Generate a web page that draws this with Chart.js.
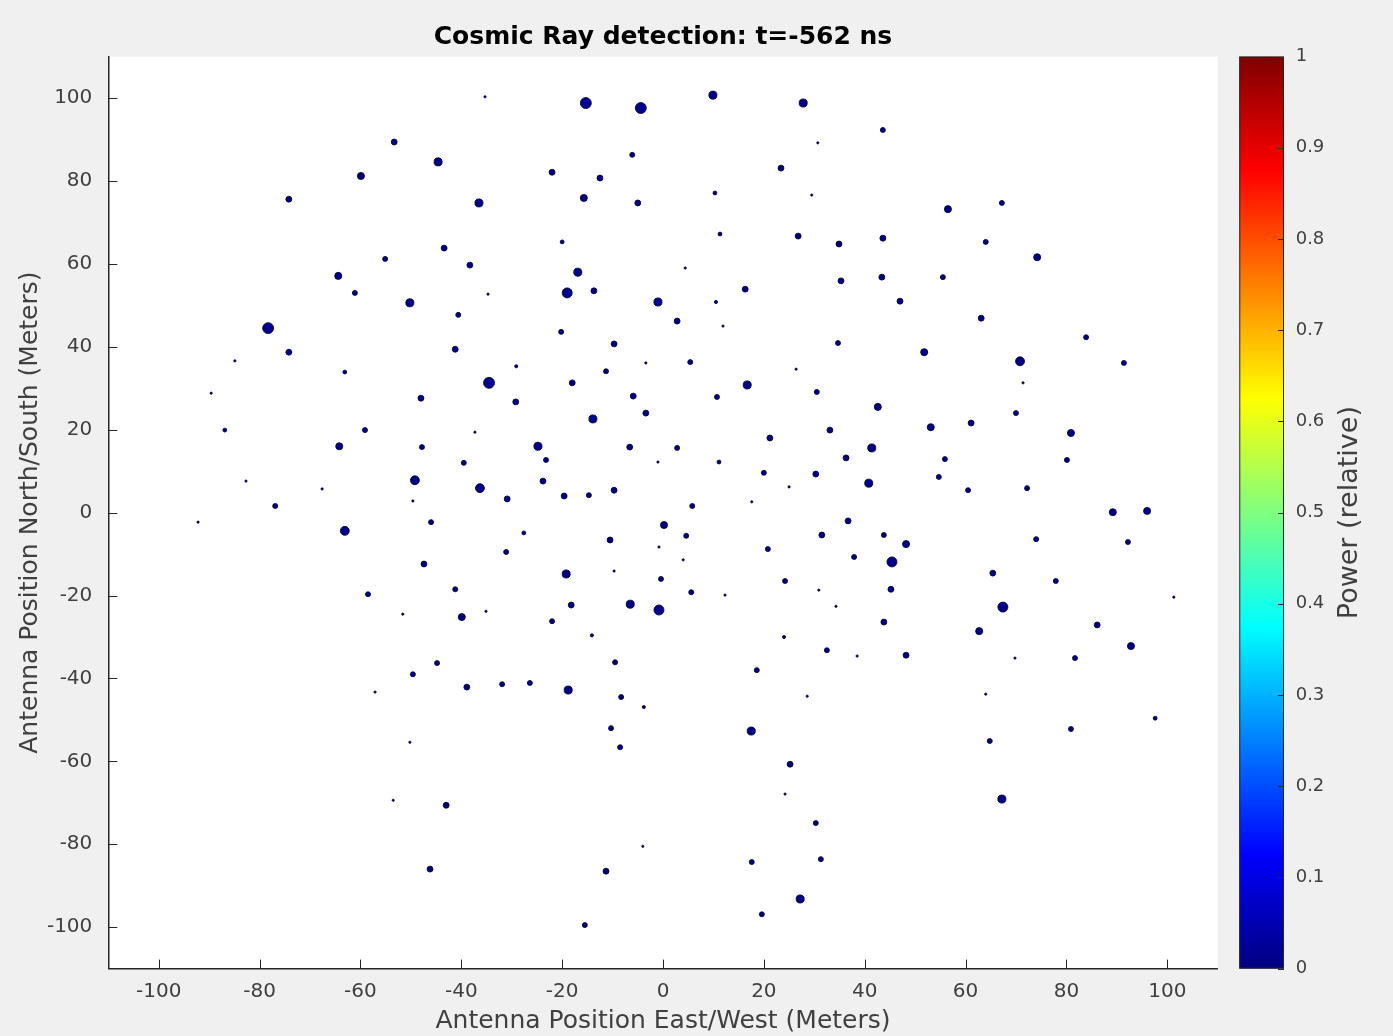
<!DOCTYPE html>
<html><head><meta charset="utf-8">
<script src="https://cdn.jsdelivr.net/npm/chart.js@4"></script>
<style>html,body{margin:0;padding:0;background:#f0f0f0;}canvas{display:block}</style>
</head><body>
<canvas id="c" width="1393" height="1036"></canvas>
<script>
// Antenna positions (meters) and relative power
const eastWest = [
-35.3,-15.3,-4.4,9.9,27.8,-53.3,43.6,30.7,-44.6,-6.1,
-59.9,-22.0,-12.5,23.4,-74.2,-36.5,-15.7,-5.0,10.3,29.5,
56.5,67.2,-43.4,-20.0,11.3,26.8,34.9,43.6,64.0,-55.1,
-38.3,4.4,-64.4,-16.9,-61.1,-13.7,-34.7,-50.2,-19.0,-1.0,
16.3,35.3,43.4,47.0,74.2,55.5,63.1,-40.6,2.8,11.9,
-20.2,10.5,-78.3,-84.9,-74.2,-41.2,-9.7,5.4,34.7,51.8,
70.8,83.9,91.4,-89.6,-63.1,-34.5,-29.1,-18.0,-11.3,16.7,
26.4,30.5,71.4,-48.0,-29.2,-5.9,10.7,-86.9,-59.1,-37.3,
-13.9,-3.4,42.6,70.0,-64.2,-47.8,-24.8,-6.6,2.8,21.2,
33.1,41.4,53.1,61.1,80.9,-67.6,-39.5,-23.2,-1.0,11.1,
20.0,30.3,36.3,55.9,80.1,40.8,-82.7,-76.9,-49.2,-49.6,
-36.3,-30.9,-23.8,-19.6,-14.7,-9.7,5.8,17.6,25.0,54.7,
60.5,72.2,89.2,96.0,-92.2,-63.1,-46.0,0.2,-10.5,-0.8,
4.6,-31.1,-47.4,-27.6,31.5,36.7,43.8,48.2,74.0,92.2,
4.0,-19.2,-9.7,-0.4,45.4,20.8,37.9,65.4,77.9,-58.5,
-41.2,-18.2,-6.5,-0.8,5.6,12.3,24.2,30.9,45.2,67.4,
101.3,-51.6,-35.1,-39.9,-22.0,-14.1,24.0,34.3,43.8,62.7,
86.1,32.5,38.5,48.2,69.8,81.7,92.8,-44.8,-18.8,-49.6,
-38.9,-31.9,-26.4,-9.5,18.6,-57.1,-8.3,-3.8,28.6,64.0,
97.6,-10.3,17.5,80.9,-8.5,-50.2,64.8,25.2,-53.5,-43.0,
24.2,67.2,30.3,-4.0,-46.2,-11.3,17.6,31.3,27.2,19.6,
-15.5,-3.4
];
const northSouth = [
100.3,98.8,97.6,100.7,98.8,89.4,92.3,89.2,84.6,86.3,
81.2,82.1,80.7,83.1,75.6,74.7,75.9,74.7,77.1,76.6,
73.2,74.7,63.8,65.3,67.2,66.7,64.8,66.2,65.3,61.2,
59.7,59.0,57.1,58.0,53.0,53.5,52.7,50.6,53.0,50.8,
53.9,55.9,56.8,51.0,61.6,56.8,46.9,47.7,46.2,45.0,
43.6,50.8,44.5,36.6,38.7,39.4,40.7,36.3,40.9,38.7,
36.5,42.3,36.1,28.8,33.9,31.3,35.3,31.3,34.1,30.8,
34.6,29.1,31.3,27.6,26.7,28.1,27.9,19.9,19.9,19.4,
22.6,24.0,25.5,24.0,16.0,15.8,16.0,15.8,15.6,18.0,
19.9,15.6,20.6,21.6,19.2,5.7,12.0,12.7,12.2,12.2,
9.6,9.3,13.2,12.9,12.7,7.1,7.6,1.6,7.8,2.8,
5.9,3.3,7.6,4.0,4.2,5.4,1.6,2.6,6.2,8.6,
5.4,5.9,0.1,0.4,-2.3,-4.4,-2.3,-3.0,-6.6,-8.3,
-5.6,-9.5,-12.4,-4.9,-5.4,-2.0,-5.4,-7.6,-6.4,-7.1,
-11.4,-14.8,-14.1,-16.0,-11.9,-8.8,-10.7,-14.6,-16.5,-19.7,
-18.5,-22.3,-22.1,-23.5,-19.2,-19.9,-16.5,-18.7,-18.5,-22.8,
-20.4,-24.5,-23.8,-25.2,-26.2,-29.6,-30.0,-22.6,-26.4,-28.6,
-27.1,-33.2,-34.6,-34.4,-35.1,-35.1,-32.2,-36.3,-42.8,-39.0,
-42.1,-41.4,-41.1,-36.1,-38.0,-43.3,-44.5,-46.9,-44.3,-43.8,
-49.6,-52.0,-52.7,-52.2,-56.6,-55.4,-55.1,-60.7,-69.4,-70.6,
-67.9,-69.1,-74.9,-80.5,-86.0,-86.5,-84.3,-83.6,-93.2,-96.9,
-99.5,36.1
];
const power = [
0.0005,0.012,0.012,0.0065,0.0065,0.0035,0.0025,0.0005,0.0065,0.0025,
0.005,0.0035,0.0035,0.0035,0.0035,0.0065,0.005,0.0035,0.0015,0.0005,
0.005,0.0025,0.0035,0.0015,0.0015,0.0035,0.0035,0.0035,0.0025,0.0025,
0.0035,0.0005,0.005,0.0065,0.0025,0.0035,0.0005,0.0065,0.01,0.0065,
0.0035,0.0035,0.0035,0.0035,0.005,0.0025,0.0035,0.0025,0.0035,0.0005,
0.0025,0.001,0.012,0.0005,0.0035,0.0035,0.0035,0.0025,0.0025,0.005,
0.008,0.0025,0.0025,0.0005,0.0015,0.012,0.001,0.0035,0.0025,0.0065,
0.0005,0.0025,0.0005,0.0035,0.0035,0.0035,0.0025,0.0015,0.0025,0.0005,
0.0065,0.0035,0.005,0.0025,0.005,0.0025,0.0065,0.0035,0.0025,0.0035,
0.0035,0.0065,0.005,0.0035,0.005,0.0005,0.0025,0.0025,0.0005,0.0015,
0.0025,0.0035,0.0035,0.0025,0.0025,0.0065,0.0005,0.0025,0.008,0.0005,
0.008,0.0035,0.0035,0.0035,0.0025,0.0035,0.0025,0.0005,0.0005,0.0025,
0.0025,0.0025,0.005,0.005,0.0005,0.008,0.0025,0.005,0.0035,0.0005,
0.0025,0.0025,0.0035,0.0015,0.0035,0.0035,0.0025,0.005,0.0025,0.0025,
0.0005,0.0065,0.0005,0.0025,0.01,0.0025,0.0025,0.0035,0.0025,0.0025,
0.0025,0.0035,0.0065,0.01,0.0025,0.0005,0.0025,0.0005,0.0035,0.01,
0.0005,0.0005,0.0005,0.005,0.0025,0.001,0.001,0.0005,0.0035,0.005,
0.0035,0.0025,0.0005,0.0035,0.0005,0.0025,0.005,0.0025,0.0065,0.0025,
0.0035,0.0025,0.0025,0.0025,0.0025,0.0005,0.0025,0.001,0.0005,0.0005,
0.0015,0.0025,0.0065,0.0025,0.0025,0.0005,0.0025,0.0035,0.0005,0.0035,
0.0005,0.0065,0.0025,0.0005,0.0035,0.0035,0.0025,0.0025,0.0065,0.0025,
0.0025,0.0005
];
const xTicks = [-100,-80,-60,-40,-20,0,20,40,60,80,100];
const yTicks = [-100,-80,-60,-40,-20,0,20,40,60,80,100];
const cbTicks = [0,0.1,0.2,0.3,0.4,0.5,0.6,0.7,0.8,0.9,1];

function jet(v){
  const c = t => Math.max(0, Math.min(1, t));
  const r = c(1.5 - Math.abs(4*v - 3)), g = c(1.5 - Math.abs(4*v - 2)), b = c(1.5 - Math.abs(4*v - 1));
  return `rgb(${Math.round(r*255)},${Math.round(g*255)},${Math.round(b*255)})`;
}

const FONT = "'DejaVu Sans', sans-serif";
const AX = '#262626', TXT = '#404040';

const bgPlugin = {
  id: 'bg',
  beforeDraw(chart){
    const {ctx, chartArea: a} = chart;
    ctx.save();
    ctx.fillStyle = '#f0f0f0';
    ctx.fillRect(0,0,chart.width,chart.height);
    ctx.fillStyle = '#ffffff';
    ctx.fillRect(a.left, a.top, a.right-a.left, a.bottom-a.top);
    ctx.restore();
  },
  afterDraw(chart){
    const {ctx, chartArea: a} = chart;
    const xs = chart.scales.x, ys = chart.scales.y, cb = chart.scales.cb;
    ctx.save();
    // inward tick marks
    ctx.strokeStyle = AX; ctx.lineWidth = 1;
    ctx.beginPath();
    xs.ticks.forEach(t => { const p = Math.round(xs.getPixelForValue(t.value))+0.5; ctx.moveTo(p, a.bottom); ctx.lineTo(p, a.bottom-9); });
    ys.ticks.forEach(t => { const p = Math.round(ys.getPixelForValue(t.value))+0.5; ctx.moveTo(a.left, p); ctx.lineTo(a.left+9, p); });
    ctx.stroke();
    // colorbar
    const top = cb.getPixelForValue(1), bot = cb.getPixelForValue(0);
    const x0 = cb.left + 21.6, x1 = cb.left + 66.3;
    const g = ctx.createLinearGradient(0, bot, 0, top);
    for (let i = 0; i <= 64; i++){ g.addColorStop(i/64, jet(i/64)); }
    ctx.fillStyle = g;
    ctx.fillRect(x0, top, x1-x0, bot-top);
    ctx.strokeStyle = AX; ctx.lineWidth = 1;
    ctx.strokeRect(x0+0.5, top+0.5, x1-x0-1, bot-top-1);
    ctx.beginPath();
    cb.ticks.forEach(t => { const p = Math.round(cb.getPixelForValue(t.value))+0.5; ctx.moveTo(x1, p); ctx.lineTo(x1-6, p); });
    ctx.stroke();
    // colorbar label (reads bottom-to-top)
    ctx.translate(cb.left + 132, (top+bot)/2);
    ctx.rotate(-Math.PI/2);
    ctx.fillStyle = TXT; ctx.font = `27px ${FONT}`;
    ctx.textAlign = 'center'; ctx.textBaseline = 'middle';
    ctx.fillText('Power (relative)', 0, 0);
    ctx.restore();
  }
};

new Chart(document.getElementById('c'), {
  type: 'scatter',
  data: {
    datasets: [{
      data: eastWest.map((x, i) => ({x, y: northSouth[i]})),
      pointRadius: c => 50*Math.sqrt(power[c.dataIndex] || 0),
      pointBackgroundColor: c => jet(power[c.dataIndex] || 0),
      pointBorderColor: 'rgba(5,5,50,0.85)',
      pointBorderWidth: 1
    }]
  },
  options: {
    responsive: false,
    animation: false,
    events: [],
    devicePixelRatio: 1,
    layout: { padding: 0, autoPadding: false },
    plugins: {
      legend: { display: false },
      tooltip: { enabled: false },
      title: {
        display: true, fullSize: false,
        text: 'Cosmic Ray detection: t=-562 ns',
        color: '#000', font: { family: FONT, size: 25, weight: 'bold', lineHeight: 1.2 },
        padding: { top: 22, bottom: 4.6 }
      }
    },
    scales: {
      x: {
        type: 'linear', min: -110, max: 110,
        afterBuildTicks: s => { s.ticks = xTicks.map(v => ({value: v})); },
        afterFit: s => { s.height = 67.4; },
        grid: { drawOnChartArea: false, drawTicks: false },
        border: { display: true, color: AX, width: 1.5 },
        ticks: { color: TXT, font: { family: FONT, size: 20 }, padding: 11, maxRotation: 0 },
        title: { display: true, text: 'Antenna Position East/West (Meters)', color: TXT,
                 font: { family: FONT, size: 25 }, padding: { top: 0, bottom: 0 } }
      },
      y: {
        type: 'linear', min: -110, max: 110, position: 'left',
        afterBuildTicks: s => { s.ticks = yTicks.map(v => ({value: v})); },
        afterFit: s => { s.width = 108.3; },
        grid: { drawOnChartArea: false, drawTicks: false },
        border: { display: true, color: AX, width: 1.5 },
        ticks: { color: TXT, font: { family: FONT, size: 20 }, padding: 16 },
        title: { display: true, text: 'Antenna Position North/South (Meters)', color: TXT,
                 font: { family: FONT, size: 25 }, padding: { top: 15, bottom: 0 } }
      },
      cb: {
        type: 'linear', min: 0, max: 1, position: 'right',
        afterBuildTicks: s => { s.ticks = cbTicks.map(v => ({value: v})); },
        afterFit: s => { s.width = 175.3; },
        grid: { display: true, drawOnChartArea: false, drawTicks: true, tickLength: 74, color: 'rgba(0,0,0,0)' },
        border: { display: false },
        ticks: { color: TXT, font: { family: FONT, size: 18 }, padding: 4,
                 callback: v => String(Math.round(v*10)/10) }
      }
    }
  },
  plugins: [bgPlugin]
});
</script>
</body></html>
